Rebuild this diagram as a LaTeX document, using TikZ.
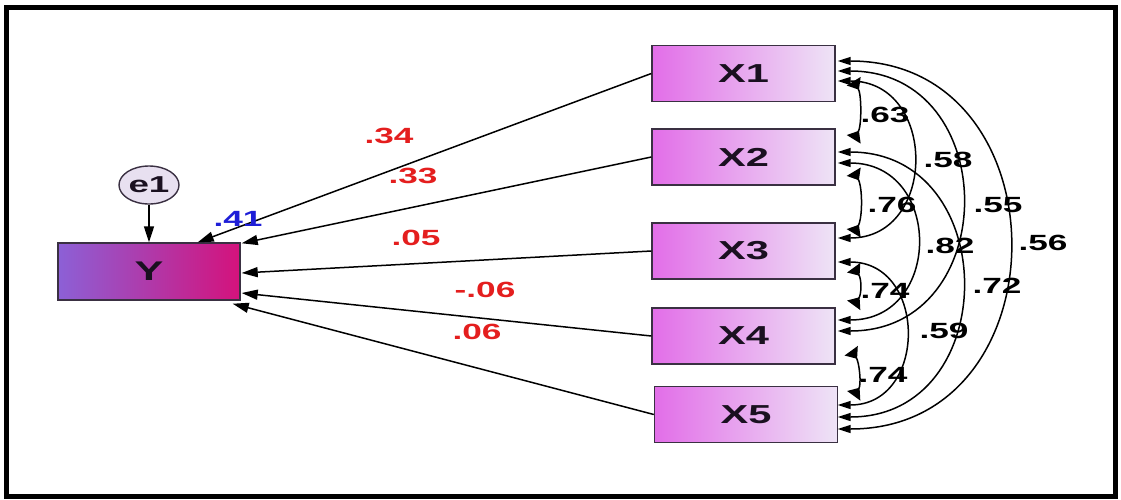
\documentclass[tikz,border=0pt]{standalone}
\usepackage{fontspec}
\usepackage{graphicx}
\setmainfont{Liberation Sans}
\usetikzlibrary{arrows.meta,shapes.geometric}

\definecolor{xl}{RGB}{226,110,232}
\definecolor{xm}{RGB}{220,160,234}
\definecolor{xr}{RGB}{238,228,246}
\definecolor{yl}{RGB}{140,96,214}
\definecolor{ym}{RGB}{190,40,160}
\definecolor{yr}{RGB}{212,18,124}
\definecolor{edge}{RGB}{58,48,66}
\definecolor{ink}{RGB}{26,16,32}
\definecolor{ered}{RGB}{228,30,30}
\definecolor{eblue}{RGB}{30,30,215}
\definecolor{efill}{RGB}{232,224,240}

% wide, bold lettering used throughout the diagram
\newcommand{\stretched}[1]{\scalebox{1.6}[1]{#1}}

\tikzset{
  xbox/.style={draw=edge, line width=1.4pt, minimum width=183pt, minimum height=56pt,
    inner sep=0pt, left color=xl, middle color=xm, right color=xr, text=ink,
    font=\fontsize{26}{26}\selectfont\bfseries},
  ybox/.style={draw=edge, line width=1.4pt, minimum width=182pt, minimum height=57pt,
    inner sep=0pt, left color=yl, middle color=ym, right color=yr, text=ink,
    font=\fontsize{27}{27}\selectfont\bfseries},
  errnode/.style={ellipse, draw=edge, line width=1.4pt, fill=efill, minimum width=60pt,
    minimum height=38pt, inner sep=0pt, text=ink, font=\fontsize{23}{23}\selectfont\bfseries},
  reg/.style={draw=black, line width=1.5pt, -{Triangle[length=16pt,width=10pt]}},
  cov/.style={draw=black, line width=1.5pt,
    {Triangle[length=13pt,width=8pt]}-{Triangle[length=13pt,width=8pt]}},
  adj/.style={draw=black, line width=1.5pt,
    {Triangle[reversed,length=10pt,width=16pt]}-{Triangle[reversed,length=10pt,width=16pt]}},
  lab/.style={inner sep=0pt, font=\fontsize{22}{22}\selectfont\bfseries},
}

\begin{document}
\begin{tikzpicture}[x=1pt,y=-1pt]
\useasboundingbox (0,0) rectangle (1121,499);
\draw[line width=5pt] (6.5,7.5) rectangle (1115.5,496.5);

% variables
\node[ybox] (Y) at (149,271.5) {\stretched{Y}};
\node[errnode] (e1) at (149,185) {\stretched{e1}};
\node[xbox] (X1) at (743.5,73.5) {\stretched{X1}};
\node[xbox] (X2) at (743.5,157) {\stretched{X2}};
\node[xbox] (X3) at (743.5,251) {\stretched{X3}};
\node[xbox] (X4) at (743.5,336) {\stretched{X4}};
\node[xbox] (X5) at (746,414.5) {\stretched{X5}};

% error term
\draw[reg] (e1.south) -- (Y.north);

% regression paths
\draw[reg] (X1.west) -- ([shift={(-43,0)}]Y.north east);
\draw[reg] (X2.west) -- ([shift={(1,1)}]Y.north east);
\draw[reg] (X3.west) -- ([shift={(1,1.5)}]Y.east);
\draw[reg] (X4.west) -- ([shift={(1,21.5)}]Y.east);
\draw[reg] (X5.west) -- ([shift={(-8,3)}]Y.south east);

% path coefficients
\node[lab, text=eblue] (r2) at (238,219) {\stretched{.41}};
\node[lab, text=ered] (b1) at (389,136) {\stretched{.34}};
\node[lab, text=ered] (b2) at (413,176) {\stretched{.33}};
\node[lab, text=ered] (b3) at (416,238) {\stretched{.05}};
\node[lab, text=ered] (b4) at (485,290) {\stretched{-.06}};
\node[lab, text=ered] (b5) at (477,332) {\stretched{.06}};

% covariances between neighbouring predictors
\draw[adj] ([shift={(18,-21)}]X1.south east) .. controls +(8,13) and +(8,-13) .. ([shift={(18,11)}]X2.north east);
\draw[adj] ([shift={(18,-14)}]X2.south east) .. controls +(9,15) and +(9,-15) .. ([shift={(18,11)}]X3.north east);
\draw[adj] ([shift={(18,-12)}]X3.south east) .. controls +(8,11) and +(8,-11) .. ([shift={(18,-2)}]X4.north east);
\draw[adj] ([shift={(15.5,-14)}]X4.south east) .. controls +(8,11) and +(8,-11) .. ([shift={(15.5,10)}]X5.north east);

% covariances spanning several predictors
\draw[cov] ([shift={(2,7.5)}]X1.east) .. controls +(100,0) and +(100,0) .. ([shift={(2,-13)}]X3.east);
\draw[cov] ([shift={(2,-2.5)}]X1.east) .. controls +(165,0) and +(165,0) .. ([shift={(2,-5)}]X4.east);
\draw[cov] ([shift={(2,-12.5)}]X1.east) .. controls +(228,0) and +(228,0) .. ([shift={(-0.5,14.5)}]X5.east);
\draw[cov] ([shift={(2,6)}]X2.east) .. controls +(105,0) and +(105,0) .. ([shift={(2,-16)}]X4.east);
\draw[cov] ([shift={(2,-5)}]X2.east) .. controls +(165,0) and +(165,0) .. ([shift={(-0.5,2.5)}]X5.east);
\draw[cov] ([shift={(2,11)}]X3.east) .. controls +(90,0) and +(90,0) .. ([shift={(-0.5,-9.5)}]X5.east);

% correlation values
\node[lab] (c12) at (885,115) {\stretched{.63}};
\node[lab] (c13) at (948,160) {\stretched{.58}};
\node[lab] (c23) at (892,205) {\stretched{.76}};
\node[lab] (c14) at (998,205) {\stretched{.55}};
\node[lab] (c24) at (950,246) {\stretched{.82}};
\node[lab] (c15) at (1043,243) {\stretched{.56}};
\node[lab] (c25) at (997,286) {\stretched{.72}};
\node[lab] (c34) at (885,291) {\stretched{.74}};
\node[lab] (c35) at (944,331) {\stretched{.59}};
\node[lab] (c45) at (883,375) {\stretched{.74}};
\end{tikzpicture}
\end{document}
